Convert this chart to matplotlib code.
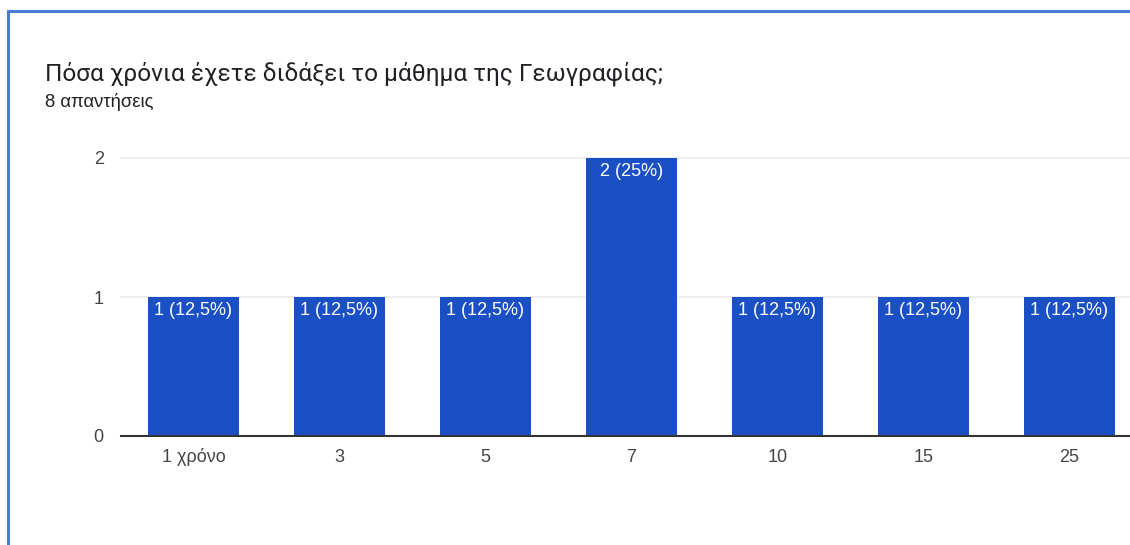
import matplotlib
matplotlib.use("Agg")
import matplotlib.pyplot as plt
from matplotlib.patches import Rectangle

categories = ["1 χρόνο", "3", "5", "7", "10", "15", "25"]
counts = [1, 1, 1, 2, 1, 1, 1]
total_responses = 8
y_ticks = [0, 1, 2]

title = "Πόσα χρόνια έχετε διδάξει το μάθημα της Γεωγραφίας;"
subtitle = f"{total_responses} απαντήσεις"

plt.rcParams["font.family"] = ["Liberation Sans", "DejaVu Sans"]

W, H = 1130, 545
fig = plt.figure(figsize=(W / 100, H / 100), dpi=100)
fig.patch.set_facecolor("white")

# card frame (runs off the right and bottom edges)
fig.patches.append(Rectangle((8 / W, -0.1), 1.2, (H - 11) / H + 0.1,
                             transform=fig.transFigure, fill=False,
                             edgecolor="#4a7bd3", linewidth=2.2))

fig.text(45 / W, 1 - 74 / H, title, fontsize=17.6, color="#202124",
         va="center", ha="left", family=["Roboto", "DejaVu Sans"])
fig.text(45 / W, 1 - 102 / H, subtitle, fontsize=13.3, color="#202124",
         va="center", ha="left")

ax = fig.add_axes([120.5 / W, (H - 436) / H, 1022 / W, 278 / H])
ax.set_facecolor("none")
x = list(range(len(categories)))
ax.bar(x, counts, width=91 / 146, color="#1b50c5", zorder=3)

for xi, c in zip(x, counts):
    pct = c / total_responses * 100
    pct_txt = f"{pct:.1f}".rstrip("0").rstrip(".").replace(".", ",")
    ax.text(xi, c - 0.097, f"{c} ({pct_txt}%)", ha="center", va="center",
            color="white", fontsize=13, zorder=4)

ax.set_xlim(-0.5, len(categories) - 0.5)
ax.set_ylim(0, 2)
ax.set_yticks(y_ticks)
ax.set_yticklabels([str(t) for t in y_ticks])
ax.set_xticks(x)
ax.set_xticklabels(categories)
ax.tick_params(axis="both", length=0, labelsize=13, labelcolor="#444444")
ax.tick_params(axis="y", pad=12)
ax.tick_params(axis="x", pad=9)
for s in ["top", "right", "left"]:
    ax.spines[s].set_visible(False)
ax.spines["bottom"].set_color("#333333")
ax.spines["bottom"].set_linewidth(1.5)
ax.spines["bottom"].set_zorder(5)
ax.yaxis.grid(True, color="#ebebeb", linewidth=1.2, zorder=0)
for gl in ax.get_ygridlines():
    gl.set_clip_on(False)

fig.savefig("out.png", dpi=100)
